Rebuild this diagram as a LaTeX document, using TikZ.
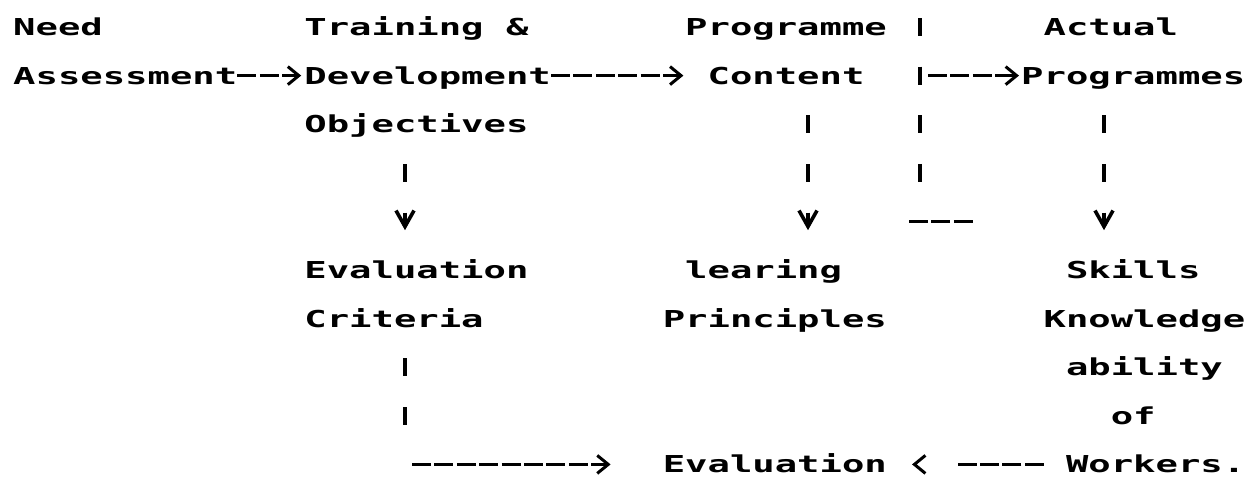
\documentclass[tikz,border=0pt]{standalone}
\usepackage{fontspec}
\newfontfamily\dotfont[FakeStretch=1.597]{DejaVu Sans Mono}
\usetikzlibrary{arrows.meta}
\begin{document}
\begin{tikzpicture}[x=1pt,y=1pt,
  txt/.style={font=\dotfont\bfseries\fontsize{23.3pt}{28pt}\selectfont,
    inner sep=0pt, anchor=base west, text height=17pt, text depth=0pt},
  hline/.style={line width=3pt, dash pattern=on 19pt off 3.4pt,
    -{Straight Barb[length=11pt,width=18pt]}},
  hplain/.style={line width=3pt, dash pattern=on 19pt off 3.4pt},
  vline/.style={line width=3.6pt, dash pattern=on 18pt off 30.6pt,
    -{Straight Barb[length=16pt,width=18pt]}},
  vplain/.style={line width=3.6pt, dash pattern=on 18pt off 30.6pt}]
\fill[white] (0,0) rectangle (1254,-477);
\useasboundingbox (0,0) rectangle (1254,-477);
% text
\node[txt] (need)   at (13,-35.5)     {Need};
\node[txt] (assess) at (13,-84.1)     {Assessment};
\node[txt] (train)  at (304.2,-35.5)  {Training \&};
\node[txt] (dev)    at (304.2,-84.1)  {Development};
\node[txt] (obj)    at (304.2,-132.7) {Objectives};
\node[txt] (prog1)  at (685,-35.5)    {Programme};
\node[txt] (cont)   at (707.4,-84.1)  {Content};
\node[txt] (act)    at (1043.4,-35.5) {Actual};
\node[txt] (progs)  at (1021,-84.1)   {Programmes};
\node[txt] (evc)    at (304.2,-278.5) {Evaluation};
\node[txt] (crit)   at (304.2,-327.1) {Criteria};
\node[txt] (lear)   at (685,-278.5)   {learing};
\node[txt] (princ)  at (662.6,-327.1) {Principles};
\node[txt] (skills) at (1065.8,-278.5){Skills};
\node[txt] (know)   at (1043.4,-327.1){Knowledge};
\node[txt] (abil)   at (1065.8,-375.7){ability};
\node[txt] (of)     at (1110.6,-424.3){of};
\node[txt] (eval)   at (662.6,-472.9) {Evaluation};
\node[txt] (work)   at (1065.8,-472.9){Workers.};
% column coordinates
\coordinate (colA) at (405,0);
\coordinate (colB) at (808,0);
\coordinate (colD) at (1104,0);
\coordinate (bt) at (920,-18);
\coordinate (bb) at (920,-181.8);
\coordinate (b2) at (928,-75.6);
\coordinate (d1) at (909,-221.4);
\coordinate (d2) at (976,-221.4);
\coordinate (cv) at (405,-424.8);
\coordinate (ch) at (412,-464.4);
% connectors
\draw[hline, shorten >=3pt] (assess.east) -- (dev.west);
\draw[hline, shorten >=24pt] (dev.east) -- (cont.west);
\draw[vplain] (bt) -- (bb);
\draw[hplain] (d1) -- (d2);
\draw[hline, shorten >=2pt] (b2) -- (progs.west);
\draw[vline, shorten <=31.1pt, shorten >=31.1pt] (obj.south -| colA) -- (evc.north -| colA);
\draw[vline, shorten <=31.1pt, shorten >=31.1pt] (cont.south -| colB) -- (lear.north -| colB);
\draw[vline, shorten <=31.1pt, shorten >=31.1pt] (progs.south -| colD) -- (skills.north -| colD);
\draw[vplain, shorten <=31.1pt] (crit.south -| colA) -- (cv);
\draw[hline, shorten >=52pt] (ch) -- (eval.west);
\draw[hline, dash pattern=on 19pt off 3.4pt on 19pt off 3.4pt on 19pt off 3.4pt on 19pt off 60pt,
  shorten <=22pt, shorten >=25pt] (work.west) -- (eval.east);
\end{tikzpicture}
\end{document}
